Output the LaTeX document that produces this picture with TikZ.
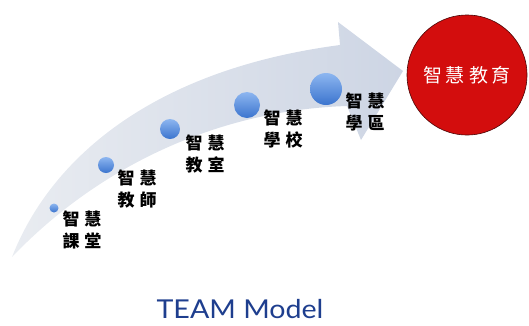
\documentclass[tikz,border=0pt]{standalone}
\usepackage{fontspec}
\newfontfamily\cjk{Noto Sans CJK TC}
\newfontfamily\latofont{Lato}
\definecolor{arrowL}{HTML}{E9ECF1}
\definecolor{arrowR}{HTML}{CDD5E4}
\definecolor{ballTop}{HTML}{8DB6F0}
\definecolor{ballBot}{HTML}{3B74CE}
\definecolor{goalRed}{HTML}{D30D0D}
\definecolor{goalEdge}{HTML}{4A0505}
\definecolor{navy}{HTML}{1E3E8E}
\begin{document}
\begin{tikzpicture}[x=1pt,y=-1pt,
  ball/.style={circle,inner sep=0pt,top color=ballTop,bottom color=ballBot,draw=none},
  lab/.style={inner sep=0pt,align=center,font=\cjk\bfseries\fontsize{17}{22}\selectfont},
  goal/.style={circle,minimum size=120pt,inner sep=0pt,fill=goalRed,draw=goalEdge,line width=0.6pt,
    text=white,font=\cjk\fontsize{19}{22}\selectfont},
  title/.style={inner sep=0pt,text=navy,font=\latofont\fontsize{26}{30}\selectfont}]
\useasboundingbox (0,0) rectangle (529,325);
% curved arrow
\path[left color=arrowL,right color=arrowR]
  (12,257) .. controls (50,160) and (150,70) .. (340,45)
  -- (338,22) -- (403,71) -- (361,140) -- (347,106)
  .. controls (220,110) and (100,165) .. (12,257) -- cycle;
% balls
\node[ball,minimum size=9pt]  (c1) at (54,208) {};
\node[ball,minimum size=16pt] (c2) at (106,165) {};
\node[ball,minimum size=20pt] (c3) at (170,129) {};
\node[ball,minimum size=26pt] (c4) at (247,105) {};
\node[ball,minimum size=32pt] (c5) at (326,89) {};
% labels
\node[lab] (l1) at (82,230) {智\hspace{5pt}慧\\課\hspace{5pt}堂};
\node[lab] (l2) at (137,189) {智\hspace{5pt}慧\\教\hspace{5pt}師};
\node[lab] (l3) at (205,154) {智\hspace{5pt}慧\\教\hspace{5pt}室};
\node[lab] (l4) at (283,129) {智\hspace{5pt}慧\\學\hspace{5pt}校};
\node[lab] (l5) at (365,112) {智\hspace{5pt}慧\\學\hspace{5pt}區};
% goal
\node[goal] (goal) at (467,75) {智\hspace{4pt}慧\hspace{4pt}教\hspace{4pt}育};
% title
\node[title] (t) at (240,309) {\scalebox{1.1}[1]{TEAM Model}};
\end{tikzpicture}
\end{document}
